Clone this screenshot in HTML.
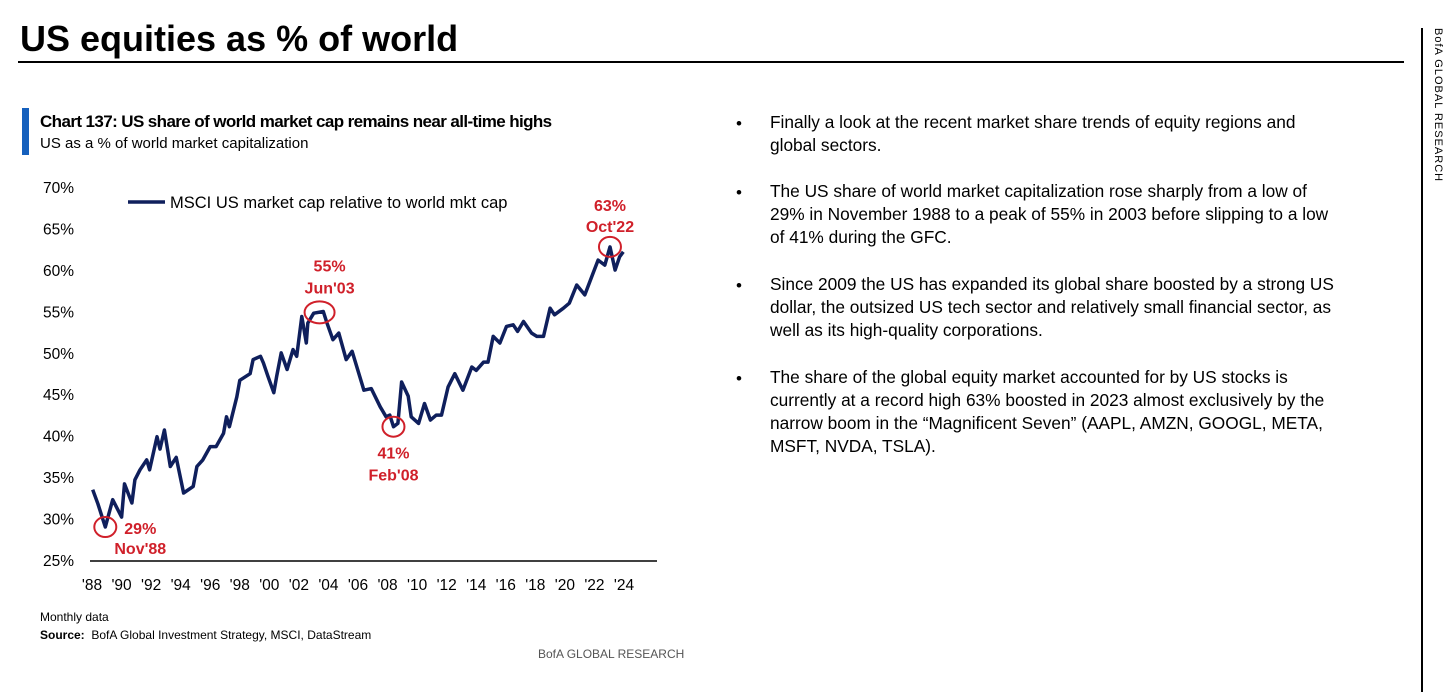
<!DOCTYPE html>
<html><head><meta charset="utf-8"><style>
body{margin:0;width:1456px;height:692px;background:#fff;font-family:"Liberation Sans",sans-serif;position:relative;overflow:hidden;color:#000}
.abs{position:absolute}
.b{position:absolute;left:736px;font-size:17px}
.t{position:absolute;left:770px;width:572px;font-size:17.3px;line-height:23px}
</style></head><body>
<div class="abs" style="left:20px;top:18px;font-size:36px;font-weight:bold">US equities as % of world</div>
<div class="abs" style="left:18px;top:61px;width:1386px;height:2px;background:#000"></div>
<div class="abs" style="left:1421px;top:28px;width:2px;height:664px;background:#000"></div>
<div class="abs" style="left:1432px;top:28px;writing-mode:vertical-rl;font-size:11px;letter-spacing:1px">BofA GLOBAL RESEARCH</div>
<div class="abs" style="left:22px;top:108px;width:7px;height:47px;background:#1560bd"></div>
<div class="abs" style="left:40px;top:112px;font-size:17px;font-weight:bold;letter-spacing:-0.6px">Chart 137: US share of world market cap remains near all-time highs</div>
<div class="abs" style="left:40px;top:135px;font-size:15px">US as a % of world market capitalization</div>
<svg class="abs" style="left:0;top:0" width="700" height="692">
<g id="axes"></g><g id="plot"></g><g id="ann"></g>
</svg>
<div class="abs" style="left:40px;top:610px;font-size:12px">Monthly data</div>
<div class="abs" style="left:40px;top:628px;font-size:12px"><b>Source:</b>&nbsp; BofA Global Investment Strategy, MSCI, DataStream</div>
<div class="abs" style="left:538px;top:647px;font-size:12px;color:#555">BofA GLOBAL RESEARCH</div>

<div class="b" style="top:114px">•</div>
<div class="t" style="top:111px">Finally a look at the recent market share trends of equity regions and global sectors.</div>
<div class="b" style="top:183px">•</div>
<div class="t" style="top:180px">The US share of world market capitalization rose sharply from a low of 29% in November 1988 to a peak of 55% in 2003 before slipping to a low of 41% during the GFC.</div>
<div class="b" style="top:276px">•</div>
<div class="t" style="top:273px">Since 2009 the US has expanded its global share boosted by a strong US dollar, the outsized US tech sector and relatively small financial sector, as well as its high-quality corporations.</div>
<div class="b" style="top:369px">•</div>
<div class="t" style="top:366px">The share of the global equity market accounted for by US stocks is currently at a record high 63% boosted in 2023 almost exclusively by the narrow boom in the “Magnificent Seven” (AAPL, AMZN, GOOGL, META, MSFT, NVDA, TSLA).</div>

<script>
const years=[1988.05,1988.4,1988.9,1989.4,1990.0,1990.2,1990.7,1990.9,1991.25,1991.7,1991.9,1992.4,1992.6,1992.9,1993.3,1993.7,1994.2,1994.85,1995.1,1995.5,1996.0,1996.4,1996.9,1997.1,1997.3,1997.8,1998.0,1998.7,1998.9,1999.4,1999.6,1999.9,2000.3,2000.5,2000.8,2001.2,2001.6,2001.85,2002.2,2002.5,2002.6,2003.0,2003.65,2003.9,2004.3,2004.7,2005.2,2005.6,2006.4,2006.9,2007.5,2007.9,2008.15,2008.4,2008.7,2008.95,2009.4,2009.6,2010.1,2010.5,2010.9,2011.3,2011.65,2012.1,2012.55,2013.1,2013.7,2014.0,2014.5,2014.8,2015.15,2015.6,2016.05,2016.5,2016.8,2017.2,2017.75,2018.1,2018.55,2019.0,2019.3,2019.9,2020.3,2020.8,2021.35,2021.9,2022.25,2022.7,2023.05,2023.4,2023.7,2023.95];
const usShare=[33.6,31.9,29.1,32.4,30.3,34.3,32.0,34.8,36.0,37.2,36.0,40.0,38.5,40.8,36.4,37.5,33.2,34.0,36.4,37.2,38.8,38.8,40.4,42.4,41.2,44.8,46.8,47.6,49.3,49.7,48.9,47.3,45.3,47.3,50.1,48.1,50.5,49.7,54.5,51.3,53.7,54.9,55.1,53.7,51.7,52.5,49.3,50.3,45.6,45.8,43.6,42.4,42.6,41.2,41.6,46.6,44.9,42.4,41.6,44.0,42.0,42.6,42.6,46.0,47.6,45.6,48.4,48.0,49.0,49.0,52.1,51.3,53.3,53.5,52.7,53.9,52.5,52.1,52.1,55.5,54.7,55.5,56.1,58.3,57.1,59.7,61.3,60.7,62.9,60.1,61.7,62.3];
const yTicks=[25,30,35,40,45,50,55,60,65,70];
const xTickYears=[1988,1990,1992,1994,1996,1998,2000,2002,2004,2006,2008,2010,2012,2014,2016,2018,2020,2022,2024];
const annLabels=[{y:1988.9,v:29.1,p:"29%",d:"Nov'88"},{y:2003.4,v:55,p:"55%",d:"Jun'03"},{y:2008.4,v:41.2,p:"41%",d:"Feb'08"},{y:2023.05,v:62.9,p:"63%",d:"Oct'22"}];
const X=yr=>92+(yr-1988)*(532/36), Y=v=>561-(v-25)*(373/45);
const NS="http://www.w3.org/2000/svg";
function mk(tag,at,parent,txt){const e=document.createElementNS(NS,tag);for(const k in at)e.setAttribute(k,at[k]);if(txt!=null)e.textContent=txt;document.getElementById(parent).appendChild(e);return e;}
yTicks.forEach(v=>{const t=mk('text',{x:74,y:Y(v)+5,'text-anchor':'end','font-size':15.5},'axes',v+'%');

});
xTickYears.forEach(yr=>{const t=mk('text',{x:X(yr),y:590,'text-anchor':'middle','font-size':15.5},'axes',"'"+String(yr).slice(2));

});
const ax=mk('line',{x1:90,x2:657,y1:561,y2:561,stroke:'#000','stroke-width':1.5},'axes');


const ll=mk('line',{x1:128,x2:165,y1:202,y2:202,stroke:'#0f1f5c','stroke-width':3.5},'axes');


const lt=mk('text',{x:170,y:208,'font-size':16.5},'axes','MSCI US market cap relative to world mkt cap');


const d=years.map((yr,i)=>(i?'L':'M')+X(yr).toFixed(1)+','+Y(usShare[i]).toFixed(1)).join('');
const ln=mk('path',{d:d,fill:'none',stroke:'#0f1f5c','stroke-width':3.5,'stroke-linejoin':'round'},'plot');


const off=[[35,1,21],[10,-47,-25],[0,26,48],[0,-42,-21]];
annLabels.forEach((a,i)=>{const cx=X(a.y),cy=Y(a.v);
const c=mk('ellipse',{cx:cx,cy:cy,rx:i==1?15:11,ry:i==1?11:10,fill:'none',stroke:'#d0202a','stroke-width':2},'ann');


const o=off[i];
const t1=mk('text',{x:cx+o[0],y:cy+o[1]+6,'text-anchor':'middle','font-size':16,'font-weight':'bold',fill:'#d0202a'},'ann',a.p);


const t2=mk('text',{x:cx+o[0],y:cy+o[2]+6,'text-anchor':'middle','font-size':16,'font-weight':'bold',fill:'#d0202a'},'ann',a.d);

});
</script>
</body></html>
